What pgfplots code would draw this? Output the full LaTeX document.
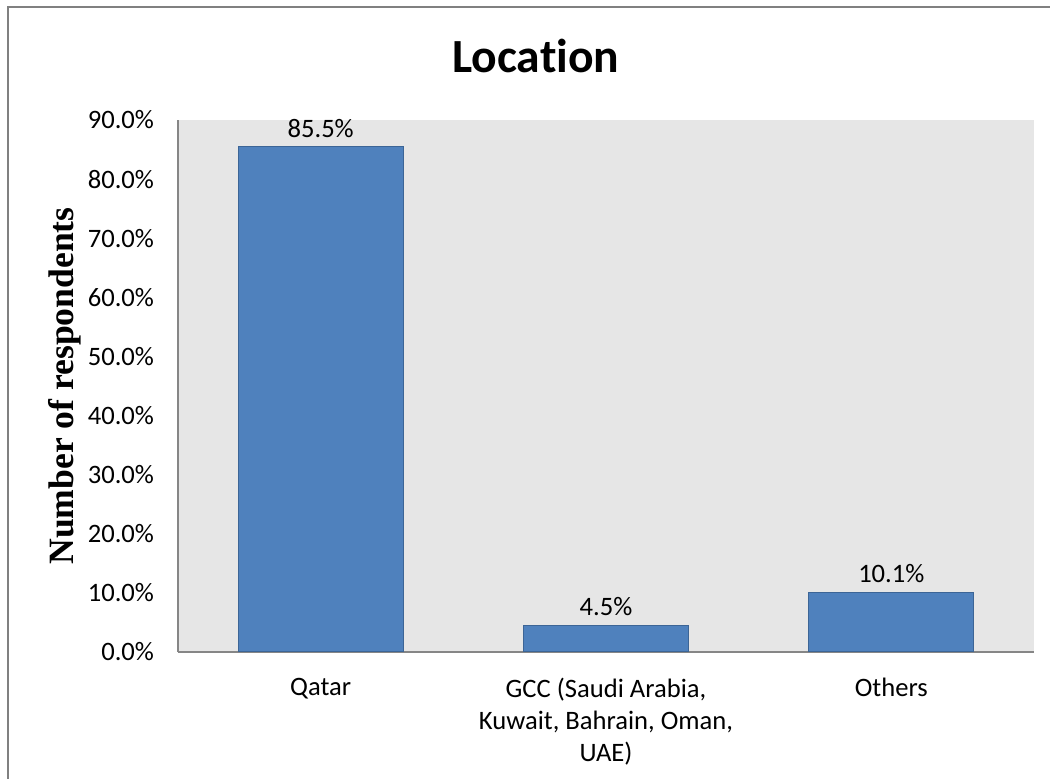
\documentclass[border=0pt]{standalone}
\usepackage{fontspec}
\setmainfont{Carlito}[Ligatures={NoCommon}]
\newfontfamily\timesfont{Liberation Serif}
\usepackage{pgfplots}
\pgfplotsset{compat=1.18}
\definecolor{barblue}{HTML}{4F81BD}
\definecolor{baredge}{HTML}{3C6596}
\definecolor{axgray}{HTML}{868686}
\definecolor{bggray}{HTML}{E6E6E6}
\definecolor{framegray}{HTML}{808080}
\begin{document}
\begin{tikzpicture}
\useasboundingbox (0,0) rectangle (525bp,389.5bp);
\draw[framegray, line width=1bp] (3.75bp,0) -- (3.75bp,386bp) -- (525bp,386bp);
\begin{axis}[
  at={(89bp,63.5bp)}, anchor=south west,
  scale only axis, width=428bp, height=266bp,
  xmin=-0.5, xmax=2.5, ymin=0, ymax=90,
  axis background/.style={fill=bggray},
  axis x line*=bottom, axis y line*=left,
  axis line style={axgray, line width=1bp},
  major tick length=0pt,
  /pgf/number format/assume math mode=true,
  xtick={0,1,2},
  xticklabels={Qatar,{GCC (Saudi Arabia,\\Kuwait, Bahrain, Oman,\\UAE)},Others},
  xticklabel style={align=center, font=\fontsize{13.3bp}{16bp}\selectfont, yshift=-9.5bp},
  ytick={0,10,...,90},
  yticklabel={\pgfmathprintnumber[fixed,fixed zerofill,precision=1]{\tick}\%},
  yticklabel style={font=\fontsize{13.3bp}{16bp}\selectfont, xshift=-8.5bp},
  title={Location},
  title style={at={(axis description cs:0.418,1.067)}, anchor=base, font=\bfseries\fontsize{23.8bp}{28bp}\selectfont},
  ylabel={Number of respondents},
  every axis y label/.style={at={(axis description cs:-0.132,0.5)}, rotate=90, anchor=center, font=\timesfont\bfseries\fontsize{17.8bp}{20bp}\selectfont},
]
\addplot[ybar, bar width=82.5bp, fill=barblue, draw=baredge, line width=0.6bp,
  nodes near coords={\pgfmathprintnumber[fixed,fixed zerofill,precision=1]{\pgfplotspointmeta}\%},
  every node near coord/.append style={font=\fontsize{13.3bp}{16bp}\selectfont, black, yshift=1bp}]
  coordinates {(0,85.5) (1,4.5) (2,10.1)};
\end{axis}
\end{tikzpicture}
\end{document}
